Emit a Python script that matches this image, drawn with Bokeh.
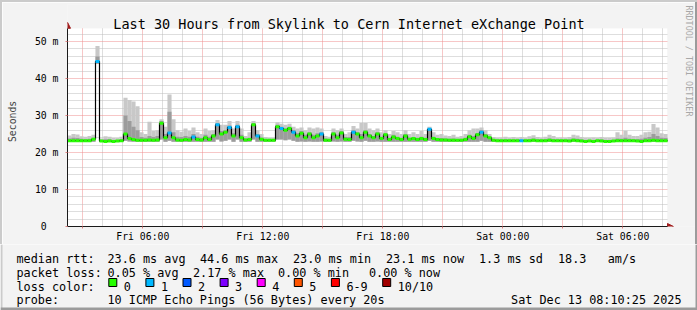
import math
from bokeh.plotting import figure
from bokeh.layouts import column, row
from bokeh.models import FixedTicker, ColumnDataSource, Spacer, Range1d
from bokeh.core.properties import value
from bokeh.embed import file_html
from bokeh.resources import INLINE

# ---------------- data ----------------
T0 = 2 + 14 / 60          # Fri 02:14 (hours since Fri 00:00)
SPAN = 30                  # hours shown
BIN = 0.2                  # 12-minute bins
YMAX = 53.6                # top of value axis (ms)

# median RTT per bin (ms)
med = [
    23.2, 23.2, 23.2, 23.2, 23.2, 23.2, 23.6, 44.6, 23.1, 23.0,
    23.1, 23.0, 23.1, 23.2, 25.0, 23.8, 23.5, 23.3, 23.3, 23.3,
    23.4, 23.3, 23.4, 27.9, 24.0, 25.3, 24.0, 23.4, 23.3, 23.5,
    23.4, 24.2, 23.5, 23.4, 24.0, 23.5, 24.5, 27.5, 25.0, 25.5,
    26.8, 24.5, 27.0, 24.0, 23.4, 23.5, 27.5, 24.5, 23.6, 23.3,
    23.3, 23.3, 27.0, 26.5, 26.0, 26.5, 25.5, 24.5, 25.2, 24.0,
    25.0, 24.0, 24.5, 25.0, 23.3, 23.3, 25.0, 24.0, 25.3, 23.6,
    23.5, 25.5, 25.0, 24.0, 25.5, 24.5, 24.0, 25.0, 23.8, 24.8,
    23.5, 24.2, 23.8, 23.5, 24.5, 23.6, 23.8, 23.5, 23.8, 23.5,
    26.3, 23.8, 23.5, 23.4, 23.4, 23.3, 23.3, 23.3, 23.3, 23.5,
    24.3, 23.8, 24.8, 25.5, 24.5, 24.0, 23.3, 23.2, 23.2, 23.2,
    23.2, 23.2, 23.2, 23.2, 23.2, 23.2, 23.3, 23.2, 23.2, 23.2,
    23.3, 23.2, 23.2, 23.2, 23.2, 23.1, 23.3, 23.2, 23.1, 23.0,
    23.1, 23.0, 23.2, 23.1, 23.0, 23.0, 23.1, 23.2, 23.2, 23.2,
    23.2, 23.2, 23.1, 23.0, 23.2, 23.2, 23.3, 23.2, 23.2, 23.2,
]
# smoke: lowest ping, upper edge of dense band, highest ping (ms)
smoke_lo = [
    22.9, 22.9, 22.9, 22.9, 22.9, 22.9, 22.9, 44.0, 22.9, 22.9,
    22.9, 22.9, 22.9, 22.9, 23.2, 23.0, 22.9, 22.9, 22.9, 22.9,
    22.9, 22.9, 22.9, 23.5, 22.9, 23.2, 22.9, 22.9, 22.9, 22.9,
    22.9, 22.9, 22.9, 22.9, 22.9, 22.9, 22.9, 23.5, 23.0, 23.2,
    23.5, 22.9, 23.5, 22.9, 22.9, 22.9, 23.5, 22.9, 22.9, 22.9,
    22.9, 22.9, 23.5, 23.5, 23.3, 23.5, 23.2, 22.9, 23.0, 22.9,
    23.0, 22.9, 22.9, 23.0, 22.9, 22.9, 23.0, 22.9, 23.0, 22.9,
    22.9, 23.2, 23.0, 22.9, 23.2, 22.9, 22.9, 23.0, 22.9, 22.9,
    22.9, 22.9, 22.9, 22.9, 22.9, 22.9, 22.9, 22.9, 22.9, 22.9,
    23.2, 22.9, 22.9, 22.9, 22.9, 22.9, 22.9, 22.9, 22.9, 22.9,
    22.9, 22.9, 22.9, 23.2, 22.9, 22.9, 22.9, 22.9, 22.9, 22.9,
    22.9, 22.9, 22.9, 22.9, 22.9, 22.9, 22.9, 22.9, 22.9, 22.9,
    22.9, 22.9, 22.9, 22.9, 22.9, 22.9, 22.9, 22.9, 22.9, 22.9,
    22.9, 22.9, 22.9, 22.9, 22.9, 22.9, 22.9, 22.9, 22.9, 22.9,
    22.9, 22.9, 22.9, 22.9, 22.9, 22.9, 22.9, 22.9, 22.9, 22.9,
]
smoke_mid = [
    23.8, 24.0, 23.9, 23.7, 23.6, 23.7, 24.0, 46.0, 23.4, 23.6,
    23.6, 23.4, 23.4, 23.6, 30.0, 28.5, 27.0, 26.0, 24.2, 24.0,
    24.5, 24.2, 24.5, 28.5, 25.0, 31.0, 25.5, 24.3, 24.2, 24.5,
    24.3, 25.0, 24.3, 24.0, 24.8, 24.3, 25.0, 28.0, 25.8, 26.0,
    27.3, 25.2, 27.5, 24.8, 23.8, 24.0, 28.0, 25.0, 24.0, 23.6,
    23.5, 23.5, 27.5, 27.0, 26.5, 27.0, 26.0, 25.2, 25.8, 24.8,
    25.5, 24.8, 25.2, 25.5, 23.8, 23.6, 25.5, 24.8, 25.8, 24.2,
    24.2, 26.0, 25.5, 25.0, 26.0, 25.0, 24.5, 25.5, 24.3, 25.2,
    24.0, 24.8, 24.3, 24.0, 25.0, 24.0, 24.2, 24.0, 24.3, 24.0,
    26.5, 24.3, 23.9, 23.9, 23.8, 23.7, 23.8, 23.6, 23.7, 24.0,
    24.8, 24.5, 25.3, 26.0, 25.0, 24.3, 23.6, 23.5, 23.5, 23.6,
    23.5, 23.5, 23.5, 23.5, 23.5, 23.6, 23.8, 23.5, 23.5, 23.6,
    23.8, 23.6, 23.5, 23.5, 23.5, 23.5, 23.8, 23.7, 23.5, 23.4,
    23.4, 23.4, 23.4, 23.5, 23.4, 23.4, 23.4, 23.8, 23.7, 24.0,
    23.7, 23.6, 23.6, 23.7, 24.0, 24.2, 25.0, 24.5, 24.0, 23.9,
]
smoke_hi = [
    24.6, 25.0, 24.9, 24.4, 24.3, 24.5, 24.8, 48.8, 23.8, 24.4,
    24.3, 23.9, 23.9, 24.3, 34.8, 34.2, 33.8, 32.5, 25.5, 25.0,
    28.3, 25.8, 26.0, 29.0, 27.0, 35.7, 29.0, 26.0, 25.6, 26.5,
    25.8, 26.8, 25.5, 25.0, 26.5, 25.8, 26.0, 28.8, 27.5, 27.5,
    28.5, 26.5, 28.5, 26.5, 24.5, 25.5, 28.5, 26.0, 25.0, 24.2,
    24.0, 24.0, 28.2, 27.8, 27.5, 27.8, 27.0, 26.5, 26.8, 26.0,
    26.8, 26.5, 26.8, 26.5, 24.5, 24.3, 26.5, 26.0, 26.5, 25.0,
    25.5, 27.2, 26.5, 28.0, 28.0, 26.5, 26.0, 26.5, 25.5, 26.0,
    25.0, 25.8, 25.5, 25.0, 26.0, 25.0, 25.5, 25.0, 25.8, 25.0,
    27.0, 25.5, 24.8, 25.0, 24.6, 24.5, 24.8, 24.3, 24.5, 25.0,
    26.0, 26.5, 26.5, 26.8, 26.0, 25.0, 24.2, 24.0, 24.1, 24.3,
    24.0, 24.2, 24.0, 24.2, 24.0, 24.4, 24.7, 24.2, 24.0, 24.3,
    24.8, 24.5, 24.0, 24.1, 24.0, 24.2, 24.8, 24.6, 24.2, 24.0,
    24.0, 24.1, 24.0, 24.2, 24.0, 24.0, 24.1, 25.5, 24.8, 25.9,
    24.8, 24.5, 24.5, 24.8, 25.5, 25.6, 27.7, 26.8, 25.2, 25.0,
]
# lost pings (out of 10) per bin
loss = [
    0, 0, 0, 0, 0, 0, 0, 1, 0, 0,
    0, 0, 0, 0, 0, 0, 0, 0, 0, 0,
    0, 0, 0, 0, 0, 1, 0, 0, 0, 0,
    0, 1, 0, 0, 0, 0, 0, 1, 0, 0,
    1, 0, 1, 0, 0, 0, 0, 1, 0, 0,
    0, 0, 0, 1, 0, 0, 1, 0, 0, 0,
    0, 0, 0, 1, 0, 0, 0, 0, 0, 0,
    0, 1, 0, 0, 0, 0, 0, 0, 0, 0,
    0, 0, 0, 0, 0, 0, 0, 0, 0, 0,
    1, 0, 0, 0, 0, 0, 0, 0, 0, 0,
    0, 0, 0, 1, 0, 0, 0, 0, 0, 0,
    0, 0, 0, 1, 0, 0, 0, 0, 0, 0,
    0, 0, 0, 0, 0, 0, 0, 0, 0, 0,
    0, 0, 0, 0, 0, 0, 0, 0, 0, 0,
    0, 0, 0, 0, 0, 0, 0, 0, 0, 0,
]

loss_labels = ["0", "1", "2", "3", "4", "5", "6-9", "10/10"]
loss_colors = ["#26ff00", "#00b8ff", "#0059ff", "#7e00ff",
               "#ff00ff", "#ff5500", "#ff0000", "#a10000"]

xtick_hours = [6, 12, 18, 24, 30]
xtick_labels = ["Fri 06:00", "Fri 12:00", "Fri 18:00", "Sat 00:00", "Sat 06:00"]
ytick_values = [0, 10, 20, 30, 40, 50]
ytick_labels = ["0", "10 m", "20 m", "30 m", "40 m", "50 m"]

title = "Last 30 Hours from Skylink to Cern Internet eXchange Point"
watermark = "RRDTOOL / TOBI OETIKER"
rtt_items = ["median rtt:", "23.6 ms avg", "44.6 ms max", "23.0 ms min",
             "23.1 ms now", "1.3 ms sd", "18.3   am/s"]
loss_items = ["packet loss:", "0.05 % avg", "2.17 % max", "0.00 % min", "0.00 % now"]
probe_items = ["probe:", "10 ICMP Echo Pings (56 Bytes) every 20s"]
stamp = "Sat Dec 13 08:10:25 2025"

# ---------------- layout constants ----------------
W, H = 697, 310
BG = "#f3f3f3"
SHADE_A, SHADE_B = "#cbcbcb", "#9b9b9b"
ARROW = "#a11d1d"
MONO = "DejaVu Sans Mono"
NB = "\u00a0"
MAIN_H = 242              # page rows 2..244
PX_L, PX_R = 67, 667      # plot area left/right (page px)
PX_T, PX_B = 28, 228      # plot area top/bottom (page px)
FR_T, FR_R = 4, 695       # frame top / right (page px)
PXH = (PX_R - PX_L) / SPAN            # px per hour
PXMS = (PX_B - PX_T) / YMAX           # px per ms


def hx(px):
    return T0 + (px - PX_L) / PXH


def my(py):
    return (PX_B - py) / PXMS


def nb(s):
    return s.replace(" ", NB)


# ---------------- main chart ----------------
p = figure(width=FR_R - 2, height=MAIN_H,
           x_range=Range1d(T0, hx(FR_R)), y_range=Range1d(0, my(FR_T)),
           output_backend="svg", toolbar_location=None,
           min_border_left=PX_L - 2, min_border_right=0, min_border_top=FR_T - 2,
           min_border_bottom=2 + MAIN_H - PX_B, background_fill_color=BG,
           border_fill_color=BG, outline_line_color=None)

# white canvas under the grid
p.quad(left=[T0], right=[T0 + SPAN], bottom=[0], top=[YMAX], fill_color="white",
       line_color=None, level="image")

maj_x = [h for h in range(3, 31, 3)]
min_x = [h for h in range(3, 33) if h % 3 != 0]
p.xgrid.ticker = FixedTicker(ticks=maj_x, minor_ticks=min_x)
p.ygrid.ticker = FixedTicker(ticks=ytick_values,
                             minor_ticks=[v for v in range(2, 54, 2) if v % 10 != 0])
p.xgrid.bounds = (T0, T0 + SPAN)
p.ygrid.bounds = (0, YMAX)
for g in (p.xgrid, p.ygrid):
    g.grid_line_color = "#ee8f8f"
    g.grid_line_dash = "1 1"
    g.grid_line_width = 1
    g.minor_grid_line_color = "#bdbdbd"
    g.minor_grid_line_dash = "1 1"
    g.minor_grid_line_width = 1

# hide grid outside the plot area (top strip and right strip of the frame)
p.quad(left=[T0, T0 + SPAN], right=[hx(FR_R), hx(FR_R)], bottom=[YMAX, 0],
       top=[my(FR_T), my(FR_T)], fill_color=BG, line_color=None)

xa = p.xaxis[0]
xa.ticker = FixedTicker(ticks=maj_x, minor_ticks=[])
xa.bounds = (T0, T0 + SPAN)
ov = {h: "" for h in maj_x}
ov.update({h: lab for h, lab in zip(xtick_hours, xtick_labels)})
xa.major_label_overrides = ov
ya = p.yaxis[0]
ya.ticker = FixedTicker(ticks=ytick_values, minor_ticks=[])
ya.bounds = (0, YMAX)
ya.major_label_overrides = {v: (lab if lab != "0" else "0" + NB + NB)
                            for v, lab in zip(ytick_values, ytick_labels)}
ya.axis_label = "Seconds" + NB + NB
ya.axis_label_text_font = MONO
ya.axis_label_text_font_style = "normal"
ya.axis_label_text_font_size = "9.8px"
ya.axis_label_standoff = 14
for a in (xa, ya):
    a.axis_line_color = "#1a1a1a"
    a.axis_line_width = 1
    a.major_tick_in = 0
    a.major_tick_out = 2
    a.major_tick_line_color = "#e08080"
    a.minor_tick_line_color = None
    a.major_label_text_font = MONO
    a.major_label_text_font_size = "9.8px"
    a.major_label_text_color = "black"
xa.major_label_standoff = 2
ya.major_label_standoff = 7

starts = [T0 + BIN * i for i in range(len(med))]
src = ColumnDataSource(dict(
    x=[s + BIN / 2 for s in starts], x0=starts, x1=[s + BIN for s in starts],
    lo=smoke_lo, mid=smoke_mid, hi=smoke_hi, med=med,
    c=[loss_colors[7] if v >= 10 else loss_colors[min(v, 6)] for v in loss]))
p.vbar(x="x", width=BIN * 1.03, bottom="lo", top="hi", fill_color="#c8c8c8",
       line_color=None, source=src)
p.vbar(x="x", width=BIN * 1.03, bottom="lo", top="mid", fill_color="#9c9c9c",
       line_color=None, source=src)
p.step(x=starts + [T0 + SPAN], y=med + [med[-1]], mode="after",
       line_color="#000000", line_width=1.2)
p.segment(x0="x0", y0="med", x1="x1", y1="med", line_color="c",
          line_width=3, source=src)

# axis arrows
p.patch(x=[hx(PX_L - 3), hx(PX_L), hx(PX_L + 3)], y=[my(PX_T), my(PX_T - 6), my(PX_T)],
        fill_color=ARROW, line_color=ARROW)
p.patch(x=[hx(PX_R), hx(PX_R + 6), hx(PX_R)], y=[my(PX_B + 3), my(PX_B), my(PX_B - 3)],
        fill_color=ARROW, line_color=ARROW)

# title and watermark
p.text(x=[hx(348.5)], y=[my(23.3)], text=[title], text_font=value(MONO),
       text_font_size=value("13.5px"), text_color="black", text_align="center",
       text_baseline="alphabetic")
p.text(x=[hx(688)], y=[my(5)], text=[watermark], angle=-math.pi / 2,
       text_font=value(MONO), text_font_size=value("8.4px"), text_color="#a8a8a8",
       text_align="left", text_baseline="middle")

# ---------------- legend strip ----------------
LEG_TOP = 2 + MAIN_H
pb = figure(width=W, height=H - LEG_TOP, x_range=Range1d(0, W), y_range=Range1d(H, LEG_TOP),
            output_backend="svg", toolbar_location=None, min_border=0,
            x_axis_location=None, y_axis_location=None,
            background_fill_color=BG, border_fill_color=BG, outline_line_color=None)
pb.grid.visible = False

tx, ty, tt, ta = [], [], [], []
for s, x in zip(rtt_items, [16, 107, 199.5, 292.5, 385.5, 478.5, 557.5]):
    tx.append(x); ty.append(258.3); tt.append(nb(s)); ta.append("left")
for s, x in zip(loss_items, [16, 107, 192.5, 277.5, 368.5]):
    tx.append(x); ty.append(272.2); tt.append(nb(s)); ta.append("left")
tx.append(16); ty.append(286.0); tt.append(nb("loss color:")); ta.append("left")
bl, br = [], []
bx = 108.3
for lab in loss_labels:
    bl.append(bx); br.append(bx + 8)
    tx.append(bx + 15); ty.append(286.0); tt.append(nb(lab)); ta.append("left")
    bx += 30 + 7.1 * len(lab)
for s, x in zip(probe_items, [16, 107]):
    tx.append(x); ty.append(299.5); tt.append(nb(s)); ta.append("left")
tx.append(681); ty.append(299.5); tt.append(nb(stamp)); ta.append("right")

pb.text(x=tx, y=ty, text=tt, text_align=ta, text_baseline="alphabetic",
        text_font=value(MONO), text_font_size=value("11.8px"), text_color="black")
pb.quad(left=bl, right=br, top=[278] * len(bl), bottom=[286] * len(bl),
        fill_color=loss_colors, line_color="black", line_width=1)
pb.quad(left=[0, 695, 0], right=[2, 697, 697], top=[LEG_TOP, LEG_TOP, 307],
        bottom=[H, H, H], fill_color=[SHADE_A, SHADE_B, SHADE_B], line_color=None)

layout = column(
    Spacer(width=W, height=2, styles={"background-color": SHADE_A}),
    row(Spacer(width=2, height=MAIN_H, styles={"background-color": SHADE_A}), p,
        Spacer(width=2, height=MAIN_H, styles={"background-color": SHADE_B}),
        spacing=0),
    pb, spacing=0)

open("out.html", "w").write(file_html(layout, INLINE))
